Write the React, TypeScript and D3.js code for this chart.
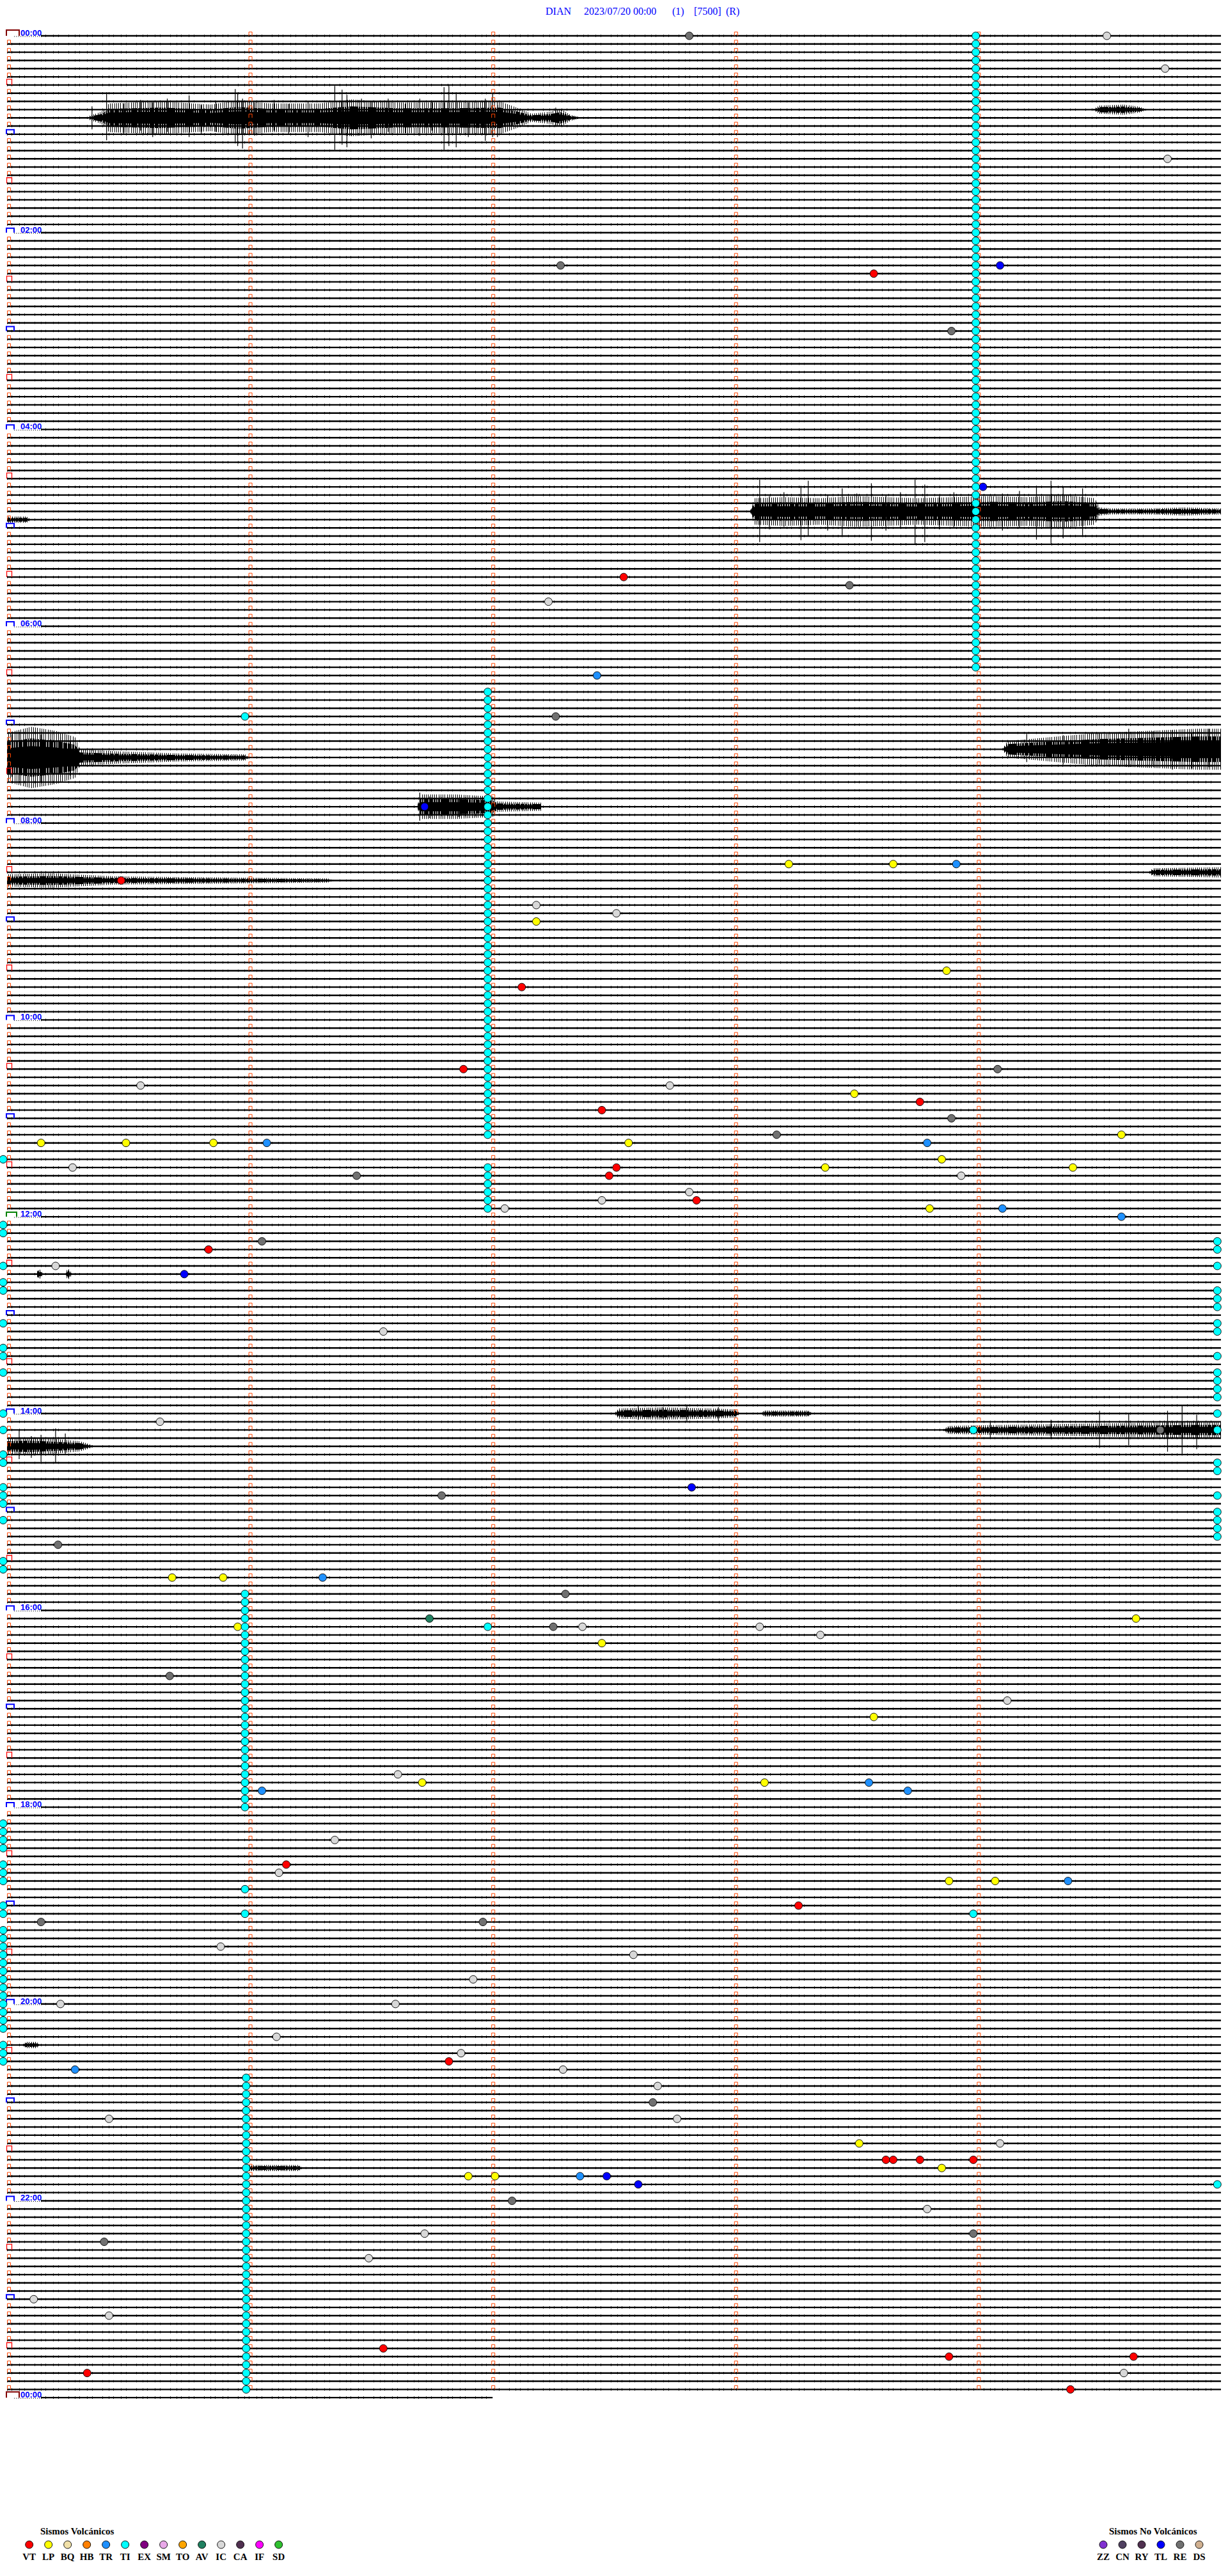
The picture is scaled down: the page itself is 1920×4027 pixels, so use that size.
import React from "react";
import * as d3 from "d3";

// ---------- header ----------
const TITLE_PARTS = ["DIAN", "2023/07/20 00:00", "(1)", "[7500]", "(R)"];

// ---------- helicorder rows ----------
const N_ROWS = 289; // 5-minute rows from 00:00 to 24:00
const ROW_MINUTES = 5;
const LAST_ROW_MINUTES = 2;
const HOUR_LABELS = d3.range(0, 13).map((h) => `${String((h * 2) % 24).padStart(2, "0")}:00`);

// ---------- legend ----------
const VOLC_TYPES = ["VT", "LP", "BQ", "HB", "TR", "TI", "EX", "SM", "TO", "AV", "IC", "CA", "IF", "SD"];
const VOLC_COLORS = ["#FF0000", "#FFFF00", "#F0E0A8", "#FF8000", "#1E90FF", "#00FFFF", "#800080", "#E8A8E8", "#FFA500", "#208060", "#D8D8D8", "#503050", "#FF00FF", "#30C030"];
const NONVOLC_TYPES = ["ZZ", "CN", "RY", "TL", "RE", "DS"];
const NONVOLC_COLORS = ["#8030D0", "#504060", "#503050", "#0000FF", "#707070", "#D0B090"];

// ---------- events: [row, minute within row, type] ----------
const EVENTS: [number, number, string][] = [
  [0, 2.81, "RE"], [0, 4.53, "IC"], [4, 4.77, "IC"], [15, 4.78, "IC"],
  [28, 2.28, "RE"], [28, 4.09, "TL"], [29, 3.57, "VT"], [36, 3.89, "RE"],
  [55, 4.02, "TL"], [66, 2.54, "VT"], [67, 3.47, "RE"], [69, 2.23, "IC"],
  [78, 2.43, "TR"], [83, 0.98, "TI"], [83, 2.26, "RE"], [94, 1.72, "TL"],
  [101, 3.22, "LP"], [101, 3.65, "LP"], [101, 3.91, "TR"], [103, 0.47, "VT"],
  [106, 2.18, "IC"], [107, 2.51, "IC"], [108, 2.18, "LP"], [114, 3.87, "LP"],
  [116, 2.12, "VT"], [126, 4.08, "RE"], [126, 1.88, "VT"], [128, 2.73, "IC"],
  [128, 0.55, "IC"], [129, 3.49, "LP"], [130, 3.76, "VT"], [131, 2.45, "VT"],
  [132, 3.89, "RE"], [134, 4.59, "LP"], [134, 3.17, "RE"],
  [135, 2.56, "LP"], [135, 3.79, "TR"], [135, 0.14, "LP"], [135, 0.49, "LP"], [135, 0.85, "LP"], [135, 1.07, "TR"],
  [137, 3.85, "LP"], [138, 0.27, "IC"], [138, 3.37, "LP"], [138, 4.39, "LP"], [138, 2.51, "VT"],
  [139, 1.44, "RE"], [139, 2.48, "VT"], [139, 3.93, "IC"], [141, 2.81, "IC"],
  [142, 2.84, "VT"], [142, 2.45, "IC"], [143, 2.05, "IC"], [143, 3.8, "LP"], [143, 4.1, "TR"],
  [144, 4.59, "TR"], [147, 1.05, "RE"], [148, 0.83, "VT"], [150, 0.2, "IC"],
  [151, 0.73, "TL"], [158, 1.55, "IC"], [169, 0.63, "IC"], [170, 3.98, "TI"], [170, 4.75, "RE"],
  [177, 2.82, "TL"], [178, 1.79, "RE"], [184, 0.21, "RE"],
  [188, 0.68, "LP"], [188, 0.89, "LP"], [188, 1.3, "TR"], [190, 2.3, "RE"],
  [193, 1.74, "AV"], [193, 4.65, "LP"],
  [194, 1.98, "TI"], [194, 0.95, "LP"], [194, 2.25, "RE"], [194, 2.37, "IC"], [194, 3.1, "IC"],
  [195, 3.35, "IC"], [196, 2.45, "LP"], [200, 0.67, "RE"], [203, 4.12, "IC"],
  [205, 3.57, "LP"], [212, 1.61, "IC"], [213, 1.71, "LP"], [213, 3.12, "LP"], [213, 3.55, "TR"],
  [214, 1.05, "TR"], [214, 3.71, "TR"], [220, 1.35, "IC"], [223, 1.15, "VT"], [224, 1.12, "IC"],
  [225, 3.88, "LP"], [225, 4.07, "LP"], [225, 4.37, "TR"], [226, 0.98, "TI"], [228, 3.26, "VT"],
  [229, 3.98, "TI"], [229, 0.98, "TI"],
  [230, 0.14, "RE"], [230, 1.96, "RE"], [233, 0.88, "IC"], [234, 2.58, "IC"], [237, 1.92, "IC"],
  [240, 1.6, "IC"], [240, 0.22, "IC"], [244, 1.11, "IC"], [246, 1.87, "IC"], [247, 1.82, "VT"],
  [248, 0.28, "TR"], [248, 2.29, "IC"], [250, 2.68, "IC"], [252, 2.66, "RE"],
  [254, 0.42, "IC"], [254, 2.76, "IC"], [257, 3.51, "LP"], [257, 4.09, "IC"],
  [259, 3.62, "VT"], [259, 3.65, "VT"], [259, 3.76, "VT"], [259, 3.98, "VT"], [260, 3.85, "LP"],
  [261, 1.9, "LP"], [261, 2.01, "LP"], [261, 2.36, "TR"], [261, 2.47, "TL"],
  [262, 2.6, "TL"], [262, 4.985, "TI"], [264, 2.08, "RE"], [265, 3.79, "IC"],
  [268, 3.98, "RE"], [268, 1.72, "IC"], [269, 0.4, "RE"], [271, 1.49, "IC"],
  [276, 0.11, "IC"], [278, 0.42, "IC"], [282, 1.55, "VT"], [283, 3.88, "VT"], [283, 4.64, "VT"],
  [285, 0.33, "VT"], [285, 4.6, "IC"], [287, 4.38, "VT"],
];

// continuous tremor (TI) runs: [minute within row, first row, last row]
const TI_RUNS: [number, number, number][] = [
  [3.99, 0, 77], [1.98, 80, 134], [1.98, 138, 143], [0.98, 190, 216], [0.985, 249, 287],
];
// TI flagged at the start / end of rows
const TI_ROW_START = [137, 145, 146, 150, 152, 153, 157, 160, 161, 163, 168, 170, 173, 174, 177, 178, 179, 181, 186, 187,
  218, 219, 220, 221, 223, 224, 225, 228, 229, 231, 232, 233, 234, 235, 236, 237, 238, 239, 240, 241, 242, 243, 245, 246, 247];
const TI_ROW_END = [147, 148, 150, 153, 154, 155, 157, 158, 161, 163, 164, 165, 166, 168, 170, 174, 175, 178, 180, 181, 182, 183];

// ---------- high-amplitude signal: envelope [minute, half-amplitude], spikes [minute, up, down] ----------
const BURSTS: { row: number; env: [number, number][]; spikes: [number, number, number][] }[] = [
  {
    row: 10,
    env: [[0.34, 2], [0.39, 6], [0.42, 14], [0.63, 16], [0.84, 13], [0.95, 17], [1.08, 14], [1.29, 14], [1.42, 18], [1.6, 15], [1.82, 15], [2.03, 16], [2.1, 10], [2.16, 4], [2.24, 6], [2.28, 9], [2.32, 3], [2.37, 0]],
    spikes: [[0.35, 18, 18], [0.41, 40, 35], [0.48, 22, 26], [0.55, 28, 20], [0.6, 24, 30], [0.66, 30, 22], [0.75, 35, 30], [0.8, 20, 26], [0.86, 26, 22],
      [0.94, 45, 40], [0.95, 38, 44], [0.97, 30, 48], [1.02, 24, 28], [1.1, 28, 20], [1.16, 22, 26], [1.24, 26, 30], [1.35, 50, 50], [1.38, 44, 42], [1.4, 36, 46],
      [1.46, 30, 24], [1.5, 26, 32], [1.57, 30, 22], [1.64, 22, 24], [1.7, 30, 28], [1.75, 26, 20], [1.8, 48, 50], [1.82, 50, 44], [1.85, 40, 46],
      [1.9, 24, 30], [1.97, 30, 36], [2.0, 38, 30], [2.02, 20, 30], [2.26, 16, 14]],
  },
  { row: 9, env: [[4.47, 0], [4.5, 4], [4.6, 5], [4.66, 3], [4.7, 0]], spikes: [] },
  {
    row: 58,
    env: [[3.06, 0], [3.08, 13], [3.2, 14], [3.35, 13], [3.5, 15], [3.62, 14], [3.75, 13], [3.9, 14], [4.05, 15], [4.2, 14], [4.35, 16], [4.48, 13], [4.5, 4], [4.55, 3], [4.7, 3], [4.85, 4], [5, 3]],
    spikes: [[3.1, 50, 48], [3.14, 24, 28], [3.2, 30, 24], [3.27, 40, 45], [3.3, 48, 38], [3.38, 26, 30], [3.44, 36, 40], [3.5, 28, 22], [3.56, 44, 46],
      [3.62, 26, 30], [3.68, 30, 26], [3.74, 50, 52], [3.78, 42, 48], [3.84, 24, 28], [3.9, 30, 26], [4.0, 26, 22], [4.1, 28, 30], [4.17, 32, 26],
      [4.24, 40, 44], [4.3, 48, 50], [4.35, 38, 42], [4.43, 36, 40]],
  },
  { row: 59, env: [[0, 3], [0.08, 3], [0.1, 0]], spikes: [] },
  {
    row: 88,
    env: [[0.0, 24], [0.1, 30], [0.2, 26], [0.28, 20], [0.3, 8], [0.45, 6], [0.7, 4], [0.98, 3], [1.0, 0]],
    spikes: [[0.02, 36, 30], [0.05, 40, 36], [0.09, 30, 38], [0.14, 36, 38], [0.18, 28, 24], [0.22, 32, 30], [0.26, 26, 28]],
  },
  {
    row: 87,
    env: [[4.1, 0], [4.12, 8], [4.3, 12], [4.5, 16], [4.7, 18], [4.9, 20], [5, 20]],
    spikes: [[4.2, 24, 20], [4.35, 22, 24], [4.5, 26, 22], [4.62, 32, 28], [4.72, 28, 24], [4.8, 30, 32], [4.88, 26, 30], [4.95, 32, 28]],
  },
  {
    row: 94,
    env: [[1.69, 0], [1.7, 12], [1.85, 12], [2.0, 10], [2.02, 5], [2.2, 4], [2.2, 0]],
    spikes: [[1.7, 22, 22], [1.74, 16, 18], [1.78, 16, 14], [1.86, 14, 16]],
  },
  { row: 103, env: [[0, 6], [0.18, 7], [0.45, 4], [0.9, 3], [1.32, 2], [1.35, 0]], spikes: [] },
  { row: 102, env: [[4.7, 0], [4.72, 4], [5, 5]], spikes: [] },
  { row: 151, env: [[0.12, 0], [0.13, 6], [0.15, 0], [0.24, 0], [0.25, 6], [0.27, 0]], spikes: [] },
  {
    row: 168,
    env: [[2.5, 0], [2.52, 5], [2.7, 6], [2.9, 5], [3.0, 4], [3.02, 0], [3.1, 0], [3.12, 3], [3.3, 3], [3.32, 0]],
    spikes: [[2.6, 12, 10], [2.7, 10, 8], [2.8, 14, 12], [2.93, 10, 12]],
  },
  {
    row: 170,
    env: [[3.85, 0], [3.88, 4], [4.1, 5], [4.4, 6], [4.7, 7], [4.9, 8], [5, 8]],
    spikes: [[4.05, 14, 12], [4.3, 16, 14], [4.5, 30, 28], [4.62, 26, 24], [4.78, 30, 34], [4.84, 38, 40], [4.9, 24, 30]],
  },
  {
    row: 172,
    env: [[0, 8], [0.1, 9], [0.2, 7], [0.3, 5], [0.34, 2], [0.36, 0]],
    spikes: [[0.05, 26, 20], [0.1, 16, 18], [0.14, 18, 24], [0.2, 28, 26], [0.24, 20, 12]],
  },
  { row: 245, env: [[0.06, 0], [0.08, 3], [0.12, 3], [0.14, 0]], spikes: [] },
  { row: 260, env: [[0.98, 0], [1.0, 3], [1.2, 3], [1.22, 0]], spikes: [] },
];

// ---------- geometry ----------
const W = 1920;
const H = 4027;
const X0 = 11;
const X1 = 1909;
const Y0 = 56;
const ROW_STEP = 12.82;

const TYPE_COLOR: Record<string, string> = {};
VOLC_TYPES.forEach((t, i) => (TYPE_COLOR[t] = VOLC_COLORS[i]));
NONVOLC_TYPES.forEach((t, i) => (TYPE_COLOR[t] = NONVOLC_COLORS[i]));

export default function App() {
  const x = d3.scaleLinear().domain([0, ROW_MINUTES]).range([X0, X1]);
  const y = d3.scaleLinear().domain([0, N_ROWS - 1]).range([Y0, Y0 + ROW_STEP * (N_ROWS - 1)]);
  const amp = d3.scaleLinear().domain([0, 10]).range([0, 10]);
  const rows = d3.range(N_ROWS);
  const minuteTicks = d3.range(1, ROW_MINUTES);

  const allEvents: [number, number, string][] = [...EVENTS];
  TI_RUNS.forEach(([m, a, b]) => d3.range(a, b + 1).forEach((r) => allEvents.push([r, m, "TI"])));
  TI_ROW_START.forEach((r) => allEvents.push([r, -0.016, "TI"]));
  TI_ROW_END.forEach((r) => allEvents.push([r, 4.985, "TI"]));

  const area = (row: number, k: number) =>
    d3
      .area<[number, number]>()
      .x((d) => x(d[0]))
      .y0((d) => y(row) + amp(d[1]) * k)
      .y1((d) => y(row) - amp(d[1]) * k)
      .curve(d3.curveLinear);

  const serif = "'Liberation Serif', 'Times New Roman', serif";
  const sans = "'Liberation Sans', Arial, sans-serif";
  const titleX = [853, 913, 1051, 1085, 1135];

  return (
    <div style={{ position: "absolute", left: 0, top: 0, width: W, height: H, background: "#fff" }}>
      <svg width={W} height={H} style={{ display: "block" }}>
        <defs>
          <pattern id="dense" patternUnits="userSpaceOnUse" width={11} height={40}>
            <path d="M0.5,0V40M1.5,0V40M3.5,0V40M4.5,0V40M5.5,0V40M7.5,0V40M8.5,0V40M9.5,0V40" stroke="#000" strokeWidth={1} />
          </pattern>
          <pattern id="sparse" patternUnits="userSpaceOnUse" width={13} height={40}>
            <path d="M0.5,0V40M3.5,0V40M6.5,0V40M10.5,0V40" stroke="#000" strokeWidth={1} />
          </pattern>
        </defs>
        <rect width={W} height={H} fill="#fff" />
        {/* title */}
        {TITLE_PARTS.map((t, i) => (
          <text key={t} x={titleX[i]} y={23} fill="#0000FF" fontFamily={serif} fontSize={16}>
            {t}
          </text>
        ))}

        {/* traces */}
        <g>
          {rows.map((r) => {
            const yy = y(r);
            const end = r === N_ROWS - 1 ? x(LAST_ROW_MINUTES) : X1;
            const labeled = r % 24 === 0;
            const start = labeled ? 64 : X0;
            return (
              <g key={r}>
                {labeled && (
                  <line x1={22} x2={64} y1={yy + 1} y2={yy + 1} stroke="#000" strokeWidth={1} strokeDasharray="1 2" />
                )}
                <line x1={start} x2={end} y1={yy} y2={yy} stroke="#000" strokeWidth={2.4} />
                <line
                  x1={start}
                  x2={end}
                  y1={yy}
                  y2={yy}
                  stroke="#000"
                  strokeWidth={3.6}
                  strokeDasharray="1 6 1 11 1 7 1 15 1 9"
                />
              </g>
            );
          })}
        </g>

        {/* bursts */}
        <g>
          {BURSTS.map((b, i) => (
            <g key={i}>
              <path d={area(b.row, 1.6)(b.env) || ""} fill="url(#sparse)" />
              <path d={area(b.row, 1)(b.env) || ""} fill="url(#dense)" />
              <path d={area(b.row, 0.6)(b.env) || ""} fill="#000" />
              {b.spikes.map((s, j) => (
                <line
                  key={j}
                  x1={x(s[0])}
                  x2={x(s[0])}
                  y1={y(b.row) - amp(s[1])}
                  y2={y(b.row) + amp(s[2])}
                  stroke="#000"
                  strokeWidth={1.2}
                />
              ))}
            </g>
          ))}
        </g>

        {/* minute markers */}
        <g fill="none" stroke="#FF4500" strokeWidth={1}>
          {rows
            .filter((r) => r < N_ROWS - 1)
            .map((r) => {
              const yy = y(r);
              const marks = r % 12 === 0 || r % 12 === 6 ? minuteTicks : [0, ...minuteTicks];
              return (
                <g key={r}>
                  {marks.map((m) => {
                    const xx = m === 0 ? 11.5 : x(m) - 1.5;
                    return <path key={m} d={`M${xx},${yy}V${yy - 6}H${xx + 5}V${yy}`} />;
                  })}
                </g>
              );
            })}
        </g>

        {/* hour / half-hour boxes and labels */}
        <g>
          {rows.map((r) => {
            const yy = y(r);
            if (r % 12 === 6) {
              return <path key={r} d={`M10.5,${yy}V${yy - 9}H18.5V${yy}`} fill="none" stroke="#FF0000" strokeWidth={1.3} />;
            }
            if (r % 12 !== 0) return null;
            const isMidnight = r === 0 || r === N_ROWS - 1;
            const isNoon = r === 144;
            const color = isMidnight ? "#800000" : isNoon ? "#008000" : "#0000FF";
            const wBox = isMidnight ? 20 : isNoon ? 16 : 12;
            const hBox = isMidnight ? 9 : 7;
            return (
              <g key={r}>
                <path d={`M10,${yy}V${yy - hBox}H${10 + wBox}V${yy}`} fill="none" stroke={color} strokeWidth={2} />
                {r % 24 === 0 && (
                  <text x={32} y={yy} fill="#0000FF" fontFamily={sans} fontWeight="bold" fontSize={13}>
                    {HOUR_LABELS[r / 24]}
                  </text>
                )}
              </g>
            );
          })}
        </g>

        {/* events */}
        <g stroke="#000" strokeWidth={0.9}>
          {allEvents.map((e, i) => (
            <circle key={i} cx={x(e[1])} cy={y(e[0])} r={6} fill={TYPE_COLOR[e[2]]} />
          ))}
        </g>

        {/* legends */}
        <g fontFamily={serif} fontWeight="bold" fill="#000">
          <text x={63} y={3962} fontSize={15}>Sismos Volcánicos</text>
          {VOLC_TYPES.map((t, i) => {
            const cx = 45.7 + i * 30;
            return (
              <g key={t}>
                <circle cx={cx} cy={3978} r={6} fill={VOLC_COLORS[i]} stroke="#000" strokeWidth={0.9} />
                <text x={cx} y={4002} fontSize={15} textAnchor="middle">{t}</text>
              </g>
            );
          })}
          <text x={1734} y={3962} fontSize={15}>Sismos No Volcánicos</text>
          {NONVOLC_TYPES.map((t, i) => {
            const cx = 1725 + i * 30;
            return (
              <g key={t}>
                <circle cx={cx} cy={3978} r={6} fill={NONVOLC_COLORS[i]} stroke="#000" strokeWidth={0.9} />
                <text x={cx} y={4002} fontSize={15} textAnchor="middle">{t}</text>
              </g>
            );
          })}
        </g>
      </svg>
    </div>
  );
}
